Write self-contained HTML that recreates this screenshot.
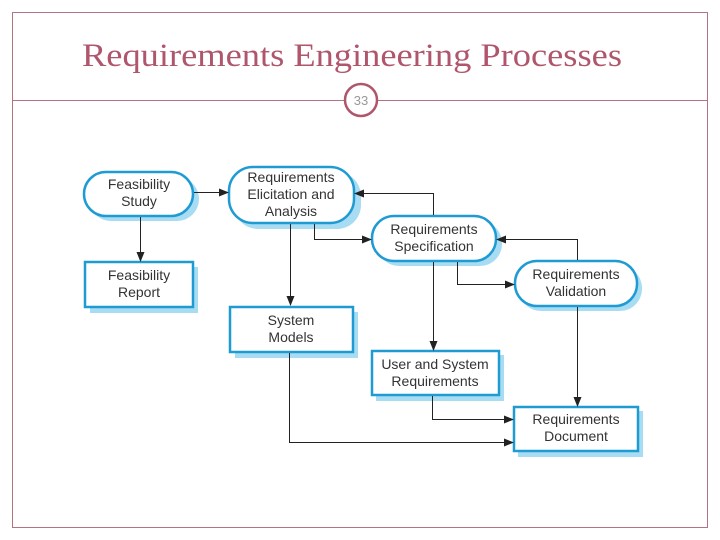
<!DOCTYPE html>
<html><head><meta charset="utf-8"><style>
html,body{margin:0;padding:0;background:#fff;}
svg{display:block;}
</style></head><body>
<svg width="720" height="540" viewBox="0 0 720 540" xmlns="http://www.w3.org/2000/svg">
<defs>
<marker id="a" markerWidth="10" markerHeight="8" refX="9" refY="4" orient="auto" markerUnits="userSpaceOnUse">
<path d="M0,0 L10,4 L0,8 z" fill="#222"/></marker>
</defs>
<rect x="12.5" y="12.5" width="695" height="515" fill="none" stroke="#b27383" stroke-width="1"/>
<text x="82" y="66" textLength="540" lengthAdjust="spacingAndGlyphs" font-family="Liberation Serif, serif" font-size="33" fill="#b0566c">Requirements Engineering Processes</text>
<line x1="12" y1="100.5" x2="344" y2="100.5" stroke="#b27383"/>
<line x1="378" y1="100.5" x2="708" y2="100.5" stroke="#b27383"/>
<circle cx="361" cy="100" r="16" fill="#fff" stroke="#b0566c" stroke-width="2.5"/>
<text x="361" y="105" text-anchor="middle" font-family="Liberation Sans, sans-serif" font-size="13" fill="#999">33</text>

<g fill="#a8dcf3">
<rect x="89" y="177" width="110" height="44" rx="22"/>
<rect x="234" y="172" width="127" height="57" rx="24"/>
<rect x="377" y="221" width="125" height="45" rx="22"/>
<rect x="519" y="266" width="123" height="45" rx="22"/>
<rect x="90" y="267" width="108" height="46"/>
<rect x="235" y="312" width="123" height="46"/>
<rect x="376" y="355" width="128" height="46"/>
<rect x="518" y="411" width="125" height="46"/>
</g>
<g fill="#fff" stroke="#1f9bd4" stroke-width="2.5">
<rect x="84" y="172" width="109" height="44" rx="22"/>
<rect x="229" y="167" width="125" height="56" rx="24"/>
<rect x="372" y="216" width="124" height="45" rx="22"/>
<rect x="515" y="261" width="122" height="45" rx="22"/>
<rect x="85" y="262" width="108" height="45"/>
<rect x="230" y="307" width="123" height="45"/>
<rect x="372" y="351" width="127" height="44"/>
<rect x="514" y="407" width="124" height="44"/>
</g>

<g stroke="#222" stroke-width="1" fill="none" marker-end="url(#a)">
<path d="M194,192.5 H228"/>
<path d="M140.5,217 V261"/>
<path d="M290.5,224 V305"/>
<path d="M314.5,224 V239.5 H371"/>
<path d="M433.5,215 V193.5 H355"/>
<path d="M457.5,262 V284.5 H514"/>
<path d="M577.5,260 V239.5 H497"/>
<path d="M433.5,262 V350"/>
<path d="M577.5,307 V406"/>
<path d="M432.5,396 V419.5 H513"/>
<path d="M289.5,353 V442.5 H513"/>
</g>

<g font-family="Liberation Sans, sans-serif" font-size="14" fill="#333" text-anchor="middle">
<text x="139" y="189">Feasibility</text><text x="139" y="206">Study</text>
<text x="291" y="182">Requirements</text><text x="291" y="199">Elicitation and</text><text x="291" y="216">Analysis</text>
<text x="434" y="234">Requirements</text><text x="434" y="251">Specification</text>
<text x="576" y="279">Requirements</text><text x="576" y="296">Validation</text>
<text x="139" y="280">Feasibility</text><text x="139" y="297">Report</text>
<text x="291" y="325">System</text><text x="291" y="342">Models</text>
<text x="435" y="369">User and System</text><text x="435" y="386">Requirements</text>
<text x="576" y="424">Requirements</text><text x="576" y="441">Document</text>
</g>
</svg>
</body></html>
